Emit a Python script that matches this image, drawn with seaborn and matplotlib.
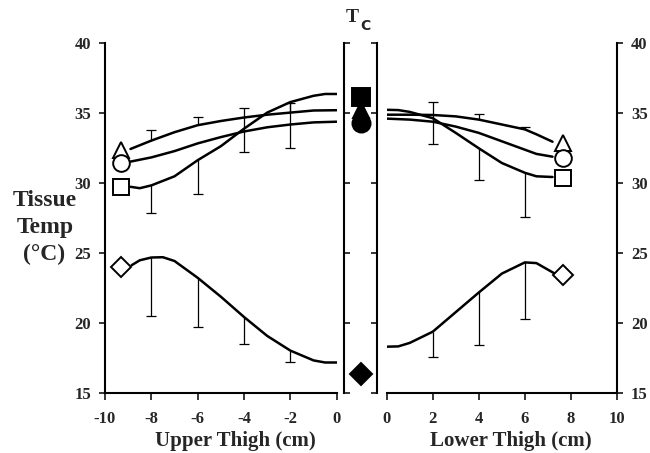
import matplotlib
matplotlib.use("Agg")
import matplotlib.pyplot as plt
import seaborn as sns

# ---- data (deg C) ----
# upper thigh (negative cm)
up_tri_x = [-8.9, -8, -7, -6, -5, -4, -3, -2, -1, 0]
up_tri_y = [32.45, 33.05, 33.65, 34.15, 34.45, 34.7, 34.9, 35.05, 35.2, 35.22]
up_cir_x = [-8.9, -8, -7, -6, -5, -4, -3, -2, -1, 0]
up_cir_y = [31.55, 31.85, 32.3, 32.85, 33.3, 33.7, 34.0, 34.2, 34.35, 34.4]
up_sq_x = [-8.9, -8.5, -8, -7, -6, -5, -4, -3, -2, -1, -0.5, 0]
up_sq_y = [29.75, 29.65, 29.85, 30.5, 31.65, 32.65, 33.9, 35.05, 35.8, 36.25, 36.38, 36.38]
up_dia_x = [-8.85, -8.5, -8, -7.5, -7, -6, -5, -4, -3, -2, -1, -0.5, 0]
up_dia_y = [24.15, 24.5, 24.7, 24.72, 24.45, 23.25, 21.9, 20.45, 19.1, 18.05, 17.35, 17.2, 17.2]

# error bars, upper thigh
up_err_x = [-8, -6, -4, -2]
up_hi_base = [33.05, 34.15, 33.9, 35.05]
up_hi_cap = [33.8, 34.7, 35.4, 35.7]
up_lo_base = [29.85, 31.65, 33.9, 35.8]
up_lo_cap = [27.85, 29.2, 32.25, 32.55]
up_dia_base = [24.7, 23.25, 20.45, 18.05]
up_dia_cap = [20.55, 19.75, 18.5, 17.25]

# end symbols, upper thigh
up_mark_x = -9.3
up_mark_y = {"^": 32.4, "o": 31.45, "s": 29.76, "D": 24.04}

# lower thigh (positive cm)
lo_tri_x = [0, 1, 2, 3, 4, 5, 6, 6.5, 7.2]
lo_tri_y = [34.9, 34.9, 34.88, 34.78, 34.55, 34.2, 33.85, 33.5, 32.97]
lo_cir_x = [0, 1, 2, 3, 4, 5, 6, 6.5, 7.2]
lo_cir_y = [34.62, 34.55, 34.4, 34.05, 33.6, 33.0, 32.4, 32.1, 31.9]
lo_sq_x = [0, 0.5, 1, 2, 3, 4, 5, 6, 6.5, 7.2]
lo_sq_y = [35.25, 35.23, 35.1, 34.65, 33.6, 32.5, 31.45, 30.75, 30.5, 30.45]
lo_dia_x = [0, 0.5, 1, 2, 3, 4, 5, 6, 6.5, 7.3]
lo_dia_y = [18.33, 18.35, 18.6, 19.4, 20.8, 22.2, 23.55, 24.35, 24.3, 23.55]

lo_err_x = [2, 4, 6]
lo_hi_base = [34.65, 34.55, 33.86]
lo_hi_cap = [35.8, 34.95, 34.0]
lo_lo_base = [34.65, 32.5, 30.7]
lo_lo_cap = [32.8, 30.2, 27.57]
lo_dia_base = [19.4, 22.2, 24.35]
lo_dia_cap = [17.57, 18.48, 20.32]

lo_mark_x = 7.67
lo_mark_y = {"^": 32.9, "o": 31.8, "s": 30.36, "D": 23.45}

# core temperature (Tc)
tc_y = {"s": 36.19, "^": 35.2, "o": 34.32, "D": 16.37}

yticks = [15, 20, 25, 30, 35, 40]
sizes = {"^": 11, "o": 12, "s": 12, "D": 10}

sns.set_style("ticks")
plt.rcParams["font.family"] = ["Liberation Serif", "DejaVu Serif"]
plt.rcParams["axes.unicode_minus"] = False

fig = plt.figure(figsize=(6.5, 4.53), dpi=100)
W, H = 650, 453
ax_l = fig.add_axes([105 / W, 59.7 / H, 231.7 / W, 350 / H])
ax_m = fig.add_axes([344.3 / W, 59.7 / H, 32.4 / W, 350 / H])
ax_r = fig.add_axes([386.7 / W, 59.7 / H, 230.3 / W, 350 / H])


def curves(ax, series):
    for xs, ys in series:
        sns.lineplot(x=xs, y=ys, ax=ax, color="black", lw=1.8, sort=False,
                     estimator=None, zorder=2)


def bars(ax, xs, base, cap):
    ax.vlines(xs, base, cap, color="black", lw=0.9, zorder=1)
    ax.plot(xs, cap, ls="none", marker="_", ms=7, mew=0.9, color="black", zorder=1)


def symbols(ax, x, ys, filled=False):
    for m, y in ys.items():
        ax.plot([x], [y], ls="none", marker=m, ms=sizes[m] + (1 if filled else 0),
                mfc="black" if filled else "white", mec="black", mew=1.4, zorder=3)


def tick_font(ax):
    for lab in ax.get_xticklabels() + ax.get_yticklabels():
        lab.set_fontweight("bold")


# upper thigh
curves(ax_l, [(up_tri_x, up_tri_y), (up_cir_x, up_cir_y), (up_sq_x, up_sq_y), (up_dia_x, up_dia_y)])
bars(ax_l, up_err_x, up_hi_base, up_hi_cap)
bars(ax_l, up_err_x, up_lo_base, up_lo_cap)
bars(ax_l, up_err_x, up_dia_base, up_dia_cap)
symbols(ax_l, up_mark_x, up_mark_y)
ax_l.set_xlim(-10, 0)
ax_l.set_ylim(15, 40)
ax_l.set_xticks([-10, -8, -6, -4, -2, 0])
ax_l.set_yticks(yticks)
sns.despine(ax=ax_l)
ax_l.tick_params(axis="y", direction="out", length=4, width=1.3, pad=6, labelsize=12)
ax_l.tick_params(axis="x", direction="out", length=5, width=1.3, pad=8, labelsize=12)
tick_font(ax_l)

# core
symbols(ax_m, 0.5, tc_y, filled=True)
ax_m.set_xlim(0, 1)
ax_m.set_ylim(15, 40)
ax_m.set_xticks([])
ax_m.set_yticks(yticks)
ax_m.tick_params(axis="y", which="both", left=True, right=True, labelleft=False,
                 direction="in", length=4, width=1.3)
ax_m.spines["top"].set_visible(False)
ax_m.spines["bottom"].set_visible(False)

# lower thigh
curves(ax_r, [(lo_tri_x, lo_tri_y), (lo_cir_x, lo_cir_y), (lo_sq_x, lo_sq_y), (lo_dia_x, lo_dia_y)])
bars(ax_r, lo_err_x, lo_hi_base, lo_hi_cap)
bars(ax_r, lo_err_x, lo_lo_base, lo_lo_cap)
bars(ax_r, lo_err_x, lo_dia_base, lo_dia_cap)
symbols(ax_r, lo_mark_x, lo_mark_y)
ax_r.set_xlim(0, 10)
ax_r.set_ylim(15, 40)
ax_r.set_xticks([0, 2, 4, 6, 8, 10])
ax_r.set_yticks(yticks)
sns.despine(ax=ax_r, left=True, right=False)
ax_r.yaxis.tick_right()
ax_r.tick_params(axis="y", direction="out", length=4, width=1.3, pad=6, labelsize=12)
ax_r.tick_params(axis="x", direction="out", length=5, width=1.3, pad=8, labelsize=12)
tick_font(ax_r)

for ax in (ax_l, ax_m, ax_r):
    for sp in ax.spines.values():
        sp.set_linewidth(1.5)
        sp.set_color("black")
    ax.set_xlabel("")
    ax.set_ylabel("")

# labels
fig.text(235 / W, 1 - 431 / H, "Upper Thigh (cm)", ha="center", va="top",
         fontsize=15, fontweight="bold")
fig.text(511 / W, 1 - 431 / H, "Lower Thigh (cm)", ha="center", va="top",
         fontsize=15, fontweight="bold")
fig.text(45 / W, 1 - 200 / H, "Tissue", ha="center", va="center", fontsize=17, fontweight="bold")
fig.text(45 / W, 1 - 227 / H, "Temp", ha="center", va="center", fontsize=17, fontweight="bold")
fig.text(44 / W, 1 - 254 / H, "(°C)", ha="center", va="center", fontsize=17, fontweight="bold")
fig.text(352.5 / W, 1 - 18 / H, "T", ha="center", va="center", fontsize=14, fontweight="bold")
fig.text(365 / W, 1 - 26 / H, "C", ha="center", va="center", fontsize=10, fontweight="bold",
         family="DejaVu Sans")

fig.savefig("out.png", dpi=100)
